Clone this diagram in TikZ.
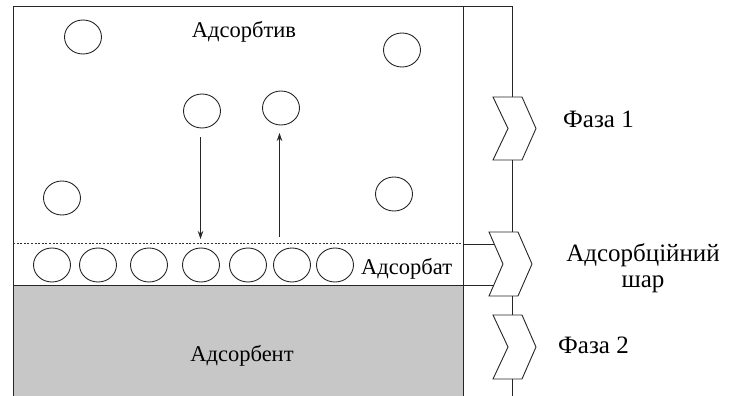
\documentclass[tikz,border=0pt]{standalone}
\usepackage{fontspec}
\setmainfont{Liberation Serif}
\usetikzlibrary{shapes.geometric,arrows.meta}
\begin{document}
\begin{tikzpicture}[x=1pt,y=-1pt,
  lw/.style={line width=0.9pt,draw=black!85},
  mol/.style={ellipse,draw=black!85,line width=0.9pt,minimum width=37pt,minimum height=34pt,inner sep=0pt},
  lbl/.style={font=\fontsize{22.5}{26}\selectfont,anchor=base,inner sep=0pt,text=black},
  rlbl/.style={font=\fontsize{25}{29}\selectfont,anchor=base,inner sep=0pt,text=black},
  chev/.style={lw,fill=white,line join=miter},
  arr/.style={line width=0.9pt,draw=black!85,-{Stealth[length=8pt,width=5.5pt]}}]
\useasboundingbox (0,0) rectangle (734,396);
% adsorbent
\fill[fill=black!22] (13,285) rectangle (463,396);
\draw[lw] (13,285) -- (463,285);
% main box
\draw[lw] (13,396) -- (13,6.5) -- (463,6.5) -- (463,396);
% dotted boundary
\draw[line width=0.9pt,draw=black!80,dash pattern=on 2pt off 1.6pt] (13,243) -- (463,243);
% texts
\node[lbl] (t1) at (244,37.5) {Адсорбтив};
\node[lbl,anchor=base west] (t2) at (361,274) {Адсорбат};
\node[lbl] (t3) at (242,361) {Адсорбент};
\node[rlbl,anchor=base west] (f1) at (563,128) {Фаза 1};
\node[rlbl] (s1) at (643,261) {Адсорбційний};
\node[rlbl] (s2) at (643,287) {шар};
\node[rlbl,anchor=base west] (f2) at (558,353) {Фаза 2};
% free molecules
\node[mol] (m1) at (83,37) {};
\node[mol] (m2) at (402,50) {};
\node[mol] (m3) at (202,111) {};
\node[mol] (m4) at (281,108) {};
\node[mol] (m5) at (62,198) {};
\node[mol] (m6) at (394,194) {};
% adsorbed molecules
\foreach \i/\x in {1/52,2/98,3/149,4/201,5/248,6/292,7/335}
  \node[mol] (a\i) at (\x,265) {};
% arrows
\coordinate (d1) at (200.5,137);
\coordinate (d2) at (200.5,239);
\coordinate (u1) at (279.5,237);
\coordinate (u2) at (279.5,133);
\draw[arr] (d1) -- (d2);
\draw[arr] (u1) -- (u2);
% bracket on the right
\coordinate (b0) at (463,6.5);
\coordinate (b1) at (512,6.5);
% chevron 1
\draw[chev] (493,97) -- (522,97) -- (536,128.5) -- (522,160) -- (493,160) -- (508,128.5) -- cycle;
\coordinate (c1top) at (512,97);
\coordinate (c1bot) at (512,160);
% chevron 2
\draw[chev] (489,232) -- (518,232) -- (532,264) -- (518,296) -- (489,296) -- (503,264) -- cycle;
\coordinate (c2top) at (512,232);
\coordinate (c2bot) at (512,296);
\coordinate (c2l1) at (494.2,244);
\coordinate (c2l2) at (493.8,285);
\coordinate (w1) at (463,244);
\coordinate (w2) at (463,285);
% chevron 3
\draw[chev] (493,315) -- (522,315) -- (536,347) -- (522,379) -- (493,379) -- (508,347) -- cycle;
\coordinate (c3top) at (512,315);
\coordinate (c3bot) at (512,379);
\coordinate (bend) at (512,396);
\draw[lw] (b0) -- (b1) -- (c1top);
\draw[lw] (c1bot) -- (c2top);
\draw[lw] (c2bot) -- (c3top);
\draw[lw] (c3bot) -- (bend);
\draw[lw] (w1) -- (c2l1);
\draw[lw] (w2) -- (c2l2);
\end{tikzpicture}
\end{document}
